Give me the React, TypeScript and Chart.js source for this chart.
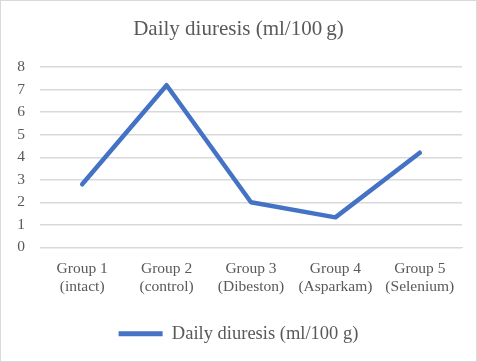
import React, { useEffect, useRef } from "react";
import { Chart, registerables } from "chart.js";

Chart.register(...registerables);

const categories: string[][] = [
  ["Group 1", "(intact)"],
  ["Group 2", "(control)"],
  ["Group 3", "(Dibeston)"],
  ["Group 4", "(Asparkam)"],
  ["Group 5", "(Selenium)"],
];
const diuresis: number[] = [2.8, 7.2, 2.0, 1.33, 4.2];
const seriesName = "Daily diuresis (ml/100 g)";
const titleText = "Daily diuresis (ml/100\u2009g)";

const FONT = "'Liberation Serif', 'Times New Roman', serif";
const GREY = "#595959";
const BLUE = "#4472C4";

export default function App() {
  const ref = useRef<HTMLCanvasElement | null>(null);
  useEffect(() => {
    document.body.style.margin = "0";
    const ctx = ref.current!;
    const chart = new Chart(ctx, {
      type: "line",
      data: {
        labels: categories,
        datasets: [
          {
            label: seriesName,
            data: diuresis,
            borderColor: BLUE,
            backgroundColor: BLUE,
            borderWidth: 4.5,
            pointRadius: 0,
            pointHoverRadius: 0,
            tension: 0,
            borderCapStyle: "round",
            borderJoinStyle: "round",
          },
        ],
      },
      options: {
        responsive: false,
        animation: false,
        layout: { padding: { left: 14, right: 14, top: 10, bottom: 8 } },
        plugins: {
          title: {
            display: true,
            text: titleText,
            color: GREY,
            font: { family: FONT, size: 21, weight: "normal" },
            padding: { top: 6, bottom: 25 },
          },
          legend: {
            position: "bottom",
            labels: {
              color: GREY,
              font: { family: FONT, size: 18.5 },
              boxWidth: 44,
              boxHeight: 5,
              padding: 24,
              generateLabels: (c: any) =>
                Chart.defaults.plugins.legend.labels
                  .generateLabels(c)
                  .map((l: any) => ({ ...l, lineWidth: 0, fillStyle: BLUE })),
            },
          },
          tooltip: { enabled: false },
        },
        scales: {
          x: {
            offset: true,
            grid: { display: false },
            border: { display: true, color: "#d9d9d9" },
            ticks: {
              color: GREY,
              font: { family: FONT, size: 15.5 },
              maxRotation: 0,
              autoSkip: false,
              padding: 4,
            },
          },
          y: {
            min: 0,
            max: 8,
            grid: { color: "#d9d9d9", lineWidth: 1.5, drawTicks: false },
            border: { display: false },
            afterFit: (s: any) => {
              s.width = 25;
            },
            ticks: {
              stepSize: 1,
              color: GREY,
              font: { family: FONT, size: 15.5 },
              padding: 15,
            },
          },
        },
      },
    });
    return () => chart.destroy();
  }, []);
  return (
    <div
      style={{
        position: "absolute",
        left: 0,
        top: 0,
        width: 477,
        height: 362,
        boxSizing: "border-box",
        border: "1px solid #d9d9d9",
        background: "#fff",
      }}
    >
      <canvas ref={ref} width={475} height={360} />
    </div>
  );
}
